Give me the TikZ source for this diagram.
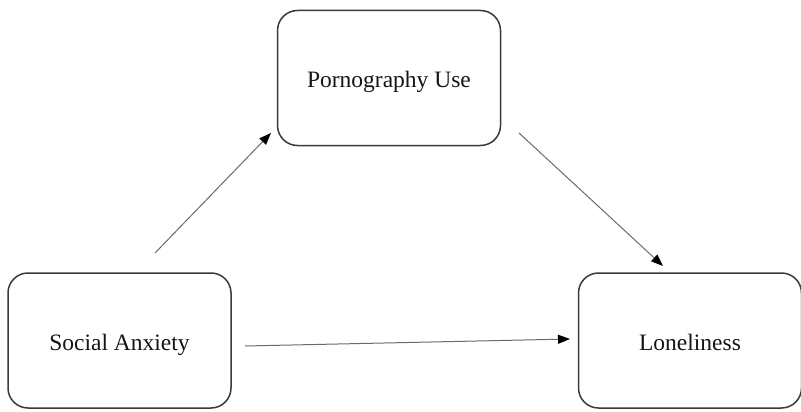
\documentclass[tikz,border=0pt]{standalone}
\usepackage{fontspec}
\setmainfont{Liberation Serif}
\usetikzlibrary{arrows.meta}
\definecolor{boxline}{HTML}{3A3A3A}
\definecolor{arrowline}{HTML}{6A6A6A}
\definecolor{labeltext}{HTML}{151515}
\begin{document}
\begin{tikzpicture}[x=1pt,y=-1pt,
  varbox/.style={draw=boxline, line width=1.5pt, rounded corners=20pt,
    minimum width=223pt, minimum height=135pt, inner sep=0pt,
    text height=19pt, text depth=0pt,
    font=\fontsize{23.5}{26}\selectfont, text=labeltext},
  path/.style={draw=arrowline, line width=1pt,
    -{Triangle[length=12pt,width=9pt,color=black]}}]
  \useasboundingbox (0,0) rectangle (801,412);
  % the three variables
  \node[varbox] (porn) at (389,78) {Pornography Use};
  \node[varbox] (anx) at (119.5,340.5) {Social Anxiety};
  \node[varbox] (lone) at (690,340.5) {Loneliness};
  % arrow end points, kept clear of the boxes
  \coordinate (a1s) at (155,253);
  \coordinate (a1e) at (271,133);
  \coordinate (a2s) at (519,133);
  \coordinate (a2e) at (663,266);
  \coordinate (a3s) at (245,346);
  \coordinate (a3e) at (570,339);
  % paths of the mediation model
  \draw[path] (a1s) -- (a1e);
  \draw[path] (a2s) -- (a2e);
  \draw[path] (a3s) -- (a3e);
\end{tikzpicture}
\end{document}
